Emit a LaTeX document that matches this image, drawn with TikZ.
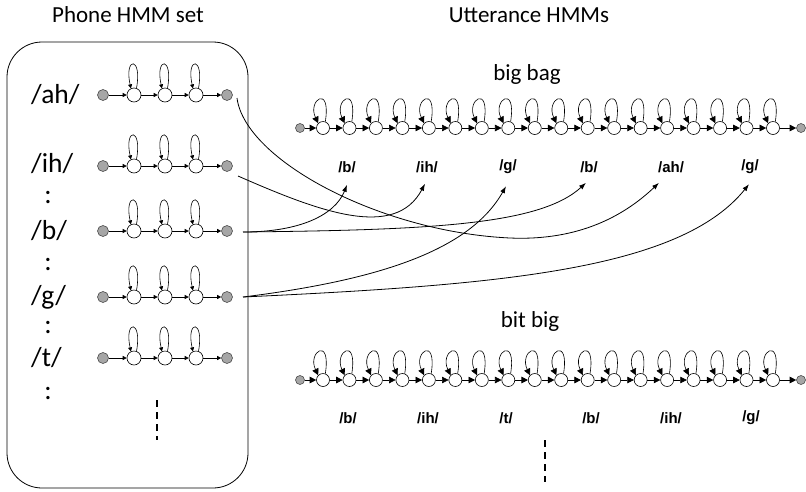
\documentclass[tikz,border=0pt]{standalone}
\usepackage{fontspec}
\setmainfont{Carlito}
\newfontfamily\lblfont{Liberation Sans Bold}
\usetikzlibrary{arrows.meta}

\definecolor{stategray}{RGB}{166,166,166}

\begin{document}
\begin{tikzpicture}[x=1pt,y=-1pt,
  every node/.style={inner sep=0pt},
  title/.style={font=\fontsize{23}{27}\selectfont},
  phone/.style={font=\fontsize{27.5}{32}\selectfont, anchor=west},
  etc/.style={font=\fontsize{27.5}{32}\selectfont},
  plab/.style={font=\lblfont\fontsize{15}{17}\selectfont},
  pst/.style={circle, draw, fill=white, minimum size=14pt, line width=0.6pt},
  pend/.style={circle, draw=black!70, fill=stategray, minimum size=11pt, line width=0.6pt},
  ust/.style={circle, draw, fill=white, minimum size=13pt, line width=0.6pt},
  uend/.style={circle, draw=black!70, fill=stategray, minimum size=9pt, line width=0.6pt},
  parr/.style={-{Triangle[length=4pt,width=4pt]}, line width=0.6pt},
  uarr/.style={-{Triangle[length=6.5pt,width=6.5pt]}, line width=0.6pt},
  link/.style={-{Latex[length=7pt,width=5pt]}, line width=0.8pt},
  more/.style={line width=1.2pt, dash pattern=on 7pt off 5pt}
]
\useasboundingbox (0,0) rectangle (806,491);

% headings
\node[title] (hset) at (128,15) {Phone HMM set};
\node[title] (hutt) at (529,15) {Utterance HMMs};
\node[title] (hbb) at (527,74) {big bag};
\node[title] (hbt) at (530,321) {bit big};

% the phone set container
\node[draw, rounded corners=35pt, line width=0.8pt, minimum width=241pt,
      minimum height=446pt] (set) at (127.5,265) {};

% phone names and ellipsis marks
\node[phone] (lah) at (31,95) {/ah/};
\node[phone] (lih) at (31,164) {/ih/};
\node[phone] (lb) at (31,231) {/b/};
\node[phone] (lg) at (31,297) {/g/};
\node[phone] (lt) at (31,358) {/t/};
\foreach \k/\y in {1/197,2/264,3/327,4/393}
  \node[etc] (dots\k) at (48,\y) {:};
\draw[more] (157,400) -- (157,440);

% three-state phone models
\foreach \nm/\y in {ah/95, ih/166, b/231, g/297, t/358}{
  \node[pend] (\nm0) at (103,\y) {};
  \node[pst] (\nm1) at (134,\y) {};
  \node[pst] (\nm2) at (165,\y) {};
  \node[pst] (\nm3) at (196,\y) {};
  \node[pend] (\nm4) at (227,\y) {};
  \foreach \i/\j in {0/1,1/2,2/3,3/4}
    \draw[parr] (\nm\i) -- (\nm\j);
  \foreach \i in {1,2,3}
    \draw[parr] (\nm\i.70) .. controls +(6,-32) and +(-7,-32) .. (\nm\i.115);
}

% concatenated utterance models
\foreach \nm/\y in {bb/128, bt/380}{
  \node[uend] (\nm0) at (300,\y) {};
  \foreach \i in {1,...,18}
    \node[ust] (\nm\i) at ({323+26.47*(\i-1)},\y) {};
  \node[uend] (\nm19) at (801,\y) {};
  \foreach \i [evaluate=\i as \j using int(\i+1)] in {0,...,18}
    \draw[uarr] (\nm\i) -- (\nm\j);
  \foreach \i in {1,...,18}
    \draw[uarr] (\nm\i.70) .. controls +(6,-38) and +(-11,-23) .. (\nm\i.135);
}

% phone labels under the utterance models
\node[plab] (bbl1) at (347,167) {/b/};
\node[plab] (bbl2) at (427,167) {/ih/};
\node[plab] (bbl3) at (508,167) {/g/};
\node[plab] (bbl4) at (589,167) {/b/};
\node[plab] (bbl5) at (671,167) {/ah/};
\node[plab] (bbl6) at (750,167) {/g/};

\node[plab] (btl1) at (348,418) {/b/};
\node[plab] (btl2) at (428,418) {/ih/};
\node[plab] (btl3) at (506,418) {/t/};
\node[plab] (btl4) at (591,418) {/b/};
\node[plab] (btl5) at (671,418) {/ih/};
\node[plab] (btl6) at (751,418) {/g/};
\draw[more] (545,440) -- (545,482);

% links from the phone set into the utterance model
\coordinate (ahout) at (237,98);
\coordinate (ihout) at (238,176);
\coordinate (bout) at (243,232);
\coordinate (gout) at (243,297);

\draw[link] (ahout) .. controls (245,160) and (380,232) .. (510,238)
  .. controls (580,241) and (625,215) .. ([xshift=-12pt,yshift=-10pt]bbl5.south);
\draw[link] (ihout) .. controls (320,212) and (395,240) .. ([xshift=-2pt,yshift=-11pt]bbl2.south);
\draw[link] (bout) .. controls (300,232) and (335,215) .. ([yshift=-12pt]bbl1.south);
\draw[link] (bout) .. controls (430,230) and (540,225) .. ([xshift=-3pt,yshift=-10pt]bbl4.south);
\draw[link] (gout) .. controls (380,280) and (470,250) .. ([xshift=-2pt,yshift=-12pt]bbl3.south);
\draw[link] (gout) .. controls (500,285) and (680,270) .. ([xshift=-1pt,yshift=-10pt]bbl6.south);
\end{tikzpicture}
\end{document}
